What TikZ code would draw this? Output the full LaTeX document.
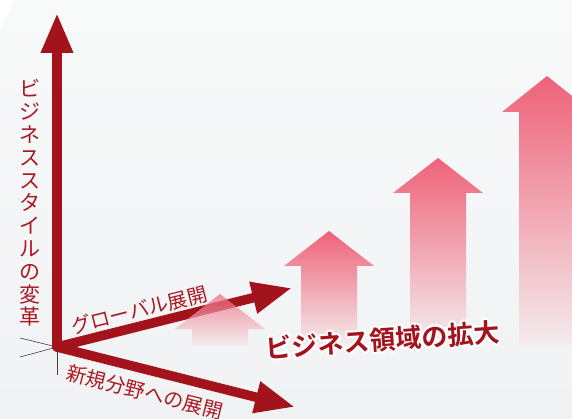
\documentclass[tikz,border=0pt]{standalone}
\usepackage{fontspec}
\newfontfamily\jp{Noto Sans CJK JP}[BoldFont={Noto Sans CJK JP Bold}]
\usetikzlibrary{arrows.meta}
\definecolor{axisred}{RGB}{163,19,27}
\definecolor{labelred}{RGB}{170,26,34}
\definecolor{pinktop}{RGB}{238,98,120}
\definecolor{pinkbot}{RGB}{244,236,238}
\definecolor{bgtop}{RGB}{248,249,249}
\definecolor{bgbot}{RGB}{241,242,244}
\newcommand\PinkUp[5]{%
  \shade[top color=pinktop,bottom color=pinkbot,#5]
    (#1,#2) -- (#1+45,#3) -- (#1+28,#3) -- (#1+28,#4) -- (#1-28,#4)
    -- (#1-28,#3) -- (#1-45,#3) -- cycle;}
\begin{document}
\begin{tikzpicture}[x=1pt,y=-1pt,
  axis/.style={line width=9.5pt,draw=axisred,line cap=round,
    -{Triangle[length=40pt,width=30pt]}},
  backline/.style={draw=black!75,line width=0.6pt},
  lab/.style={text=labelred,font=\jp\fontsize{20}{22}\selectfont,inner sep=0pt},
  vlab/.style={text=labelred,font=\jp\fontsize{21}{22.8}\selectfont,align=center,inner sep=0pt},
  title/.style={font=\jp\bfseries\fontsize{26}{30}\selectfont,inner sep=0pt,rotate=4}]
\useasboundingbox (0,0) rectangle (572,419);
\clip (0,0) rectangle (572,419);
\shade[top color=bgtop,bottom color=bgbot] (0,0) rectangle (572,419);
\fill[white] (0,0) -- (14,0) -- (0,30) -- cycle;
% pink growth arrows
\PinkUp{329}{231}{266}{345}{}
\PinkUp{438}{158}{193}{342}{}
\PinkUp{547}{76}{112}{345}{}
% axes
\coordinate (O) at (57,347);
\coordinate (V) at (57,13);
\coordinate (G) at (292,288);
\coordinate (N) at (295,407);
\coordinate (Vb) at (57,375);
\coordinate (Gb) at (20,357);
\coordinate (Nb) at (20,338);
\draw[backline] (O) -- (Vb);
\draw[backline] (O) -- (Gb);
\draw[backline] (O) -- (Nb);
\draw[axis] (O) -- (V);
\draw[axis] (O) -- (G);
\draw[axis] (O) -- (N);
% small translucent arrow over the axis
\PinkUp{220}{294}{329}{346}{opacity=0.7}
% labels
\node[vlab] (vl) at (30,203) {ビ\\ジ\\ネ\\ス\\ス\\タ\\イ\\ル\\の\\変\\革};
\node[lab,rotate=14.2] (gl) at (139,310) {グローバル展開};
\node[lab,rotate=-14.2] (nl) at (145,392) {新規分野への展開};
\foreach \a in {0,30,...,330}
  \node[title,text=white,shift={(\a:2.2)}] at (383,340) {ビジネス領域の拡大};
\node[title,text=axisred] (tl) at (383,340) {ビジネス領域の拡大};
\end{tikzpicture}
\end{document}
